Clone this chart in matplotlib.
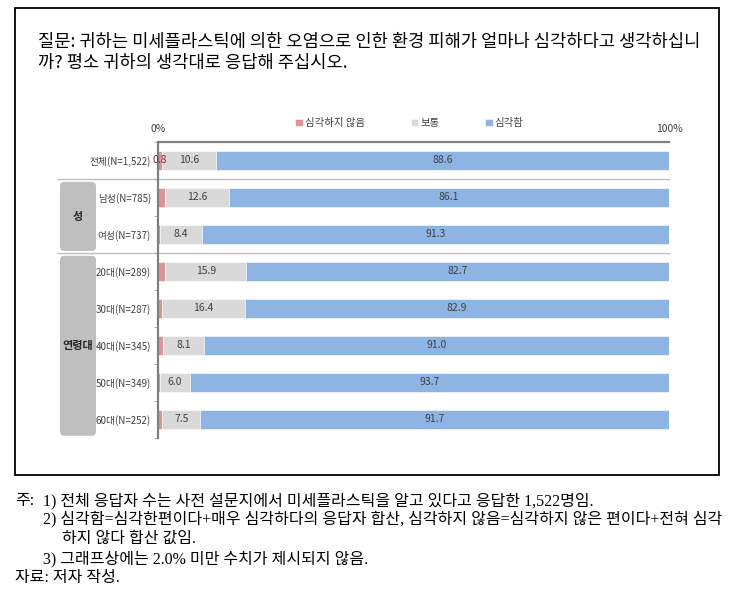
import matplotlib
matplotlib.use("Agg")
import matplotlib.pyplot as plt
from matplotlib.patches import FancyBboxPatch, Rectangle
from matplotlib.transforms import blended_transform_factory

plt.rcParams['font.family'] = ['Noto Sans CJK KR', 'DejaVu Sans']

# 데이터
labels = ['전체(N=1,522)', '남성(N=785)', '여성(N=737)', '20대(N=289)',
          '30대(N=287)', '40대(N=345)', '50대(N=349)', '60대(N=252)']
not_serious = [0.8, 1.3, 0.3, 1.4, 0.7, 0.9, 0.3, 0.8]
neutral = [10.6, 12.6, 8.4, 15.9, 16.4, 8.1, 6.0, 7.5]
serious = [88.6, 86.1, 91.3, 82.7, 82.9, 91.0, 93.7, 91.7]
series_names = ['심각하지 않음', '보통', '심각함']
groups = [('성', 1, 2), ('연령대', 3, 7)]
separators = [0.5, 2.5]

title_lines = ['질문: 귀하는 미세플라스틱에 의한 오염으로 인한 환경 피해가 얼마나 심각하다고 생각하십니',
               '까? 평소 귀하의 생각대로 응답해 주십시오.']
notes = [
    ('주:', 15, 501),
    ('1) 전체 응답자 수는 사전 설문지에서 미세플라스틱을 알고 있다고 응답한 1,522명임.', 43, 501),
    ('2) 심각함=심각한편이다+매우 심각하다의 응답자 합산, 심각하지 않음=심각하지 않은 편이다+전혀 심각', 43, 519),
    ('하지 않다 합산 값임.', 62, 539),
    ('3) 그래프상에는 2.0% 미만 수치가 제시되지 않음.', 43, 559),
    ('자료: 저자 작성.', 15, 578),
]

colors = ['#DA9694', '#D9D9D9', '#8DB4E2']
W, H = 749, 597

fig = plt.figure(figsize=(W / 100, H / 100), dpi=100)
ax = fig.add_axes([158 / W, 1 - 438 / H, 511 / W, 296 / H])

y = list(range(len(labels)))
left = [0] * len(labels)
for vals, c, name in zip([not_serious, neutral, serious], colors, series_names):
    ax.barh(y, vals, left=left, height=0.51, color=c, label=name, edgecolor='white', linewidth=0.4)
    for i, v in enumerate(vals):
        cx = left[i] + v / 2
        if v >= 2.0:
            ax.text(cx, i, f'{v:.1f}', ha='center', va='center', fontsize=7.5, color='#404040')
        elif i == 0:
            ax.text(cx, i, f'{v:.1f}', ha='center', va='center', fontsize=7.5, color='#8B2525')
    left = [l + v for l, v in zip(left, vals)]

ax.set_xlim(0, 100)
ax.set_ylim(len(labels) - 0.49, -0.49)
ax.set_yticks(y)
ax.set_yticklabels(labels, fontsize=7, color='#404040')
ax.set_yticks([i - 0.5 for i in range(len(labels) + 1)], minor=True)
ax.tick_params(axis='y', which='major', length=0, pad=5)
ax.tick_params(axis='y', which='minor', length=3, color='#A6A6A6', direction='out')
ax.xaxis.tick_top()
ax.set_xticks([0, 100])
ax.set_xticklabels(['0%', '100%'], fontsize=7.5, color='#404040')
ax.tick_params(axis='x', length=0, pad=6)
for s in ['bottom', 'right']:
    ax.spines[s].set_visible(False)
for s in ['top', 'left']:
    ax.spines[s].set_color('#808080')
    ax.spines[s].set_linewidth(1.6)

# 구분선
trans = blended_transform_factory(ax.transAxes, ax.transData)
for sy in separators:
    ax.plot([-0.196, 1.0], [sy, sy], transform=trans, color='#BFBFBF', lw=1.0, clip_on=False, zorder=0)

# 그룹 박스
fig.canvas.draw()
for name, r0, r1 in groups:
    x0 = 60 / W
    x1 = 96 / W
    ytop = ax.transData.transform((0, r0 - 0.42))[1] / H
    ybot = ax.transData.transform((0, r1 + 0.45))[1] / H
    box = FancyBboxPatch((x0, ybot), x1 - x0, ytop - ybot, transform=fig.transFigure,
                         boxstyle='round,pad=0,rounding_size=0.006', mutation_aspect=W / H,
                         facecolor='#BFBFBF', edgecolor='none', zorder=0)
    fig.add_artist(box)
    fig.text((x0 + x1) / 2, (ytop + ybot) / 2, name, ha='center', va='center',
             fontsize=8, fontweight='bold', color='#262626')

ax.legend(loc='center', bbox_to_anchor=(409.5 / W, 1 - 123 / H), bbox_transform=fig.transFigure,
          ncol=3, frameon=False, fontsize=7.5, handlelength=0.7, handleheight=0.7,
          handletextpad=0.2, columnspacing=4.4, labelcolor='#404040')

# 제목과 테두리
for k, line in enumerate(title_lines):
    fig.text(38 / W, 1 - (42 + 21 * k) / H, line, ha='left', va='center', fontsize=12.7, color='black')
fig.add_artist(Rectangle((15 / W, 1 - 475 / H), 704 / W, 467 / H, transform=fig.transFigure,
                         fill=False, edgecolor='black', lw=1.3))

# 주석
for txt, nx, ny in notes:
    fig.text(nx / W, 1 - ny / H, txt, ha='left', va='center', fontsize=11.5,
             family=['Liberation Serif', 'Noto Sans CJK KR'], color='black')

fig.savefig('out.png', dpi=100)
